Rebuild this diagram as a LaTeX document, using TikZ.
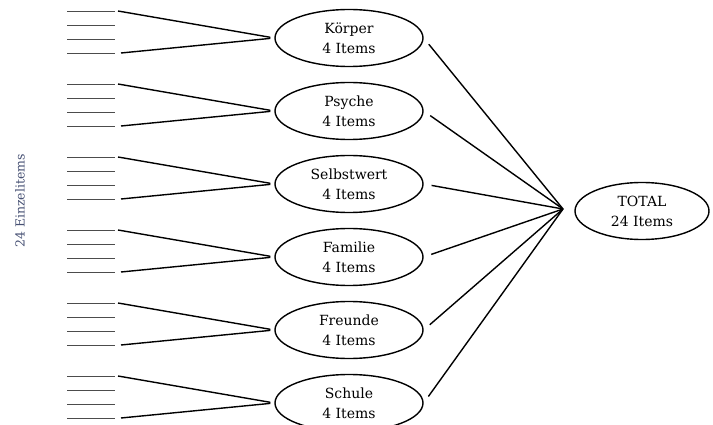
\documentclass[tikz,border=0pt]{standalone}
\usepackage{fontspec}
\setmainfont{DejaVu Serif}
\usetikzlibrary{shapes.geometric}
\definecolor{labelcol}{RGB}{70,80,115}
\begin{document}
\begin{tikzpicture}[x=1pt,y=-1pt,
  cat/.style={draw, ellipse, line width=1.4pt, minimum width=148pt, minimum height=57pt,
    inner sep=0pt, align=center, font=\fontsize{14}{20}\selectfont},
  tickline/.style={line width=0.9pt, black!70},
  fan/.style={line width=1.4pt},
]
\useasboundingbox (0,0) rectangle (713,425);
\foreach \lab [count=\i from 0] in {Körper,Psyche,Selbstwert,Familie,Freunde,Schule}{
  \node[cat] (e\i) at (349,{38+73*\i}) {\lab\\4 Items};
  \foreach \d in {0,14,28,42}{
    \coordinate (tl\i-\d) at (67,{11+73*\i+\d});
    \coordinate (tr\i-\d) at (115,{11+73*\i+\d});
    \draw[tickline] (tl\i-\d) -- (tr\i-\d);
  }
  \coordinate (ta\i) at (118,{11+73*\i});
  \coordinate (tb\i) at (121,{11+73*\i+42});
  \draw[fan, shorten >=4pt] (ta\i) -- (e\i.west);
  \draw[fan, shorten >=4pt] (tb\i) -- (e\i.west);
}
\coordinate (hub) at (563,209);
\foreach \i in {0,...,5}{
  \draw[fan, shorten <=8pt] (e\i.east) -- (hub);
}
\node[cat, minimum width=134pt] (total) at (642,211) {TOTAL\\24 Items};
\node[rotate=90, font=\fontsize{12.5}{14}\selectfont, text=labelcol] (lbl) at (20,201) {24 Einzelitems};
\end{tikzpicture}
\end{document}
